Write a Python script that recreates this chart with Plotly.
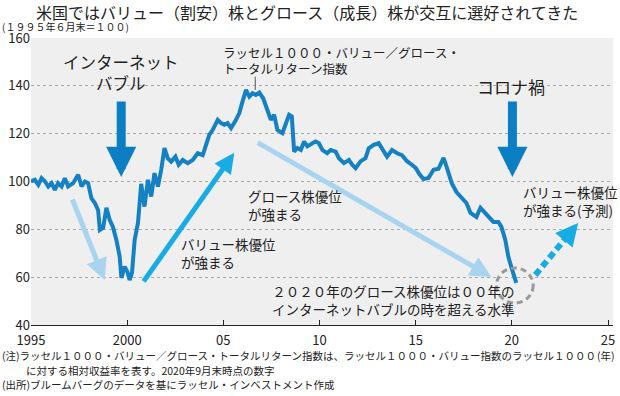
import plotly.graph_objects as go

# ---------------- data ----------------
years = [1995.00, 1995.20, 1995.38, 1995.55, 1995.73, 1995.90, 1996.07, 1996.24, 1996.41, 1996.59,
         1996.76, 1996.93, 1997.19, 1997.45, 1997.63, 1997.80, 1997.97, 1998.14, 1998.32, 1998.49,
         1998.58, 1998.75, 1998.92, 1999.09, 1999.26, 1999.44, 1999.61, 1999.70, 1999.87, 2000.01,
         2000.13, 2000.25, 2000.39, 2000.56, 2000.73, 2000.90, 2001.08, 2001.25, 2001.42, 2001.60,
         2001.77, 2001.94, 2002.11, 2002.29, 2002.51, 2002.68, 2002.89, 2003.15, 2003.41, 2003.67,
         2003.93, 2004.10, 2004.27, 2004.45, 2004.71, 2004.88, 2005.05, 2005.22, 2005.40, 2005.66,
         2005.83, 2006.00, 2006.18, 2006.35, 2006.52, 2006.69, 2006.87, 2007.07, 2007.30, 2007.47,
         2007.64, 2007.81, 2008.07, 2008.25, 2008.42, 2008.56, 2008.68, 2008.85, 2009.03, 2009.20,
         2009.37, 2009.63, 2009.80, 2009.97, 2010.15, 2010.40, 2010.58, 2010.84, 2011.01, 2011.27,
         2011.53, 2011.70, 2011.88, 2012.13, 2012.39, 2012.56, 2012.82, 2013.08, 2013.25, 2013.51,
         2013.77, 2014.03, 2014.29, 2014.55, 2014.80, 2015.00, 2015.20, 2015.41, 2015.67, 2015.93,
         2016.19, 2016.45, 2016.61, 2016.87, 2017.12, 2017.38, 2017.64, 2017.85, 2018.16, 2018.37,
         2018.68, 2019.04, 2019.30, 2019.46, 2019.66, 2019.82, 2019.97, 2020.23]
index_values = [100, 100.7, 98.6, 101.4, 100, 97.9, 99.3, 96.5, 99.3, 97.9,
                101.4, 97.9, 99.3, 102.8, 97.9, 100, 99.3, 93, 91, 88,
                79.7, 80.6, 89, 84, 81, 75.6, 68.6, 59.7, 64.4, 62.3,
                58.8, 61.8, 75.6, 82.6, 99, 89.5, 100.7, 93.7, 103.5, 97.9,
                104.9, 114, 109.7, 108.3, 110.4, 107, 109, 107.7, 109, 111.8,
                111, 115.3, 119.5, 121.6, 125.8, 124.4, 123.7, 124.4, 122.3, 125.8,
                128.6, 133.5, 138.3, 135.5, 136.9, 136.2, 137.2, 134.8, 130, 125.8,
                127.9, 121.6, 120.2, 123.7, 127.9, 127.2, 112.5, 114, 113.2, 116.7,
                114.7, 116, 116.7, 116, 113.2, 111.8, 113.2, 112.5, 109.7, 107.7,
                109, 107, 105.6, 108.4, 109.7, 113.9, 115.3, 116, 113.9, 110.4,
                113.2, 111.8, 111, 108.5, 107, 105.7, 103, 101, 101.5, 104.9,
                105.3, 109.9, 106.1, 99.4, 95.6, 93.1, 91, 86.9, 85.2, 89,
                86, 83.1, 83.1, 81, 75.6, 68.5, 64.3, 57.6]

x_tick_values = [1995, 2000, 2005, 2010, 2015, 2020, 2025]
x_tick_labels = ["1995", "2000", "05", "10", "15", "20", "25"]
y_tick_values = [40, 60, 80, 100, 120, 140, 160]

title_text = "米国ではバリュー（割安）株とグロース（成長）株が交互に選好されてきた"
subtitle_text = "(１９９５年６月末＝１００)"
note_lines = [
    "(注)ラッセル１０００・バリュー／グロース・トータルリターン指数は、ラッセル１０００・バリュー指数のラッセル１０００",
    "に対する相対収益率を表す。2020年9月末時点の数字",
    "(出所)ブルームバーグのデータを基にラッセル・インベストメント作成",
]

FONT = "Noto Sans CJK JP"
LINE_C = "#1581c5"
DARK_C = "#0b7ec4"
BRIGHT_C = "#17ace6"
PALE_C = "#a8d4f0"

W, H = 620, 396
ML, MR, MT, MB = 31, 5, 38, 71
PW, PH = W - ML - MR, H - MT - MB


def px(xp):
    return (xp - ML) / PW


def py(yp):
    return (H - MB - yp) / PH


fig = go.Figure()
fig.add_trace(go.Scatter(x=years, y=index_values, mode="lines",
                         line=dict(color=LINE_C, width=4), hoverinfo="skip",
                         showlegend=False))

ann = []


def arrow(x0, y0, x1, y1, color, width, size):
    ann.append(dict(x=x1, y=y1, ax=x0, ay=y0, xref="x", yref="y", axref="x", ayref="y",
                    text="", showarrow=True, arrowhead=2, arrowsize=size,
                    arrowwidth=width, arrowcolor=color))


def label(x, y, text, size, align="left", xanchor="left", color="#222"):
    ann.append(dict(x=x, y=y, xref="x", yref="y", text=text, showarrow=False,
                    xanchor=xanchor, yanchor="middle", align=align,
                    font=dict(family=FONT, size=size, color=color)))


# big dark arrows
arrow(1999.69, 134.1, 1999.69, 101.9, DARK_C, 9, 0.67)
arrow(2020.03, 134.1, 2020.03, 101.9, DARK_C, 9, 0.67)
label(1999.66, 145.4, "インターネット<br>バブル", 16.5, align="center", xanchor="center")
label(2019.97, 139.6, "コロナ禍", 17, align="center", xanchor="center")

# pale & bright arrows
arrow(1997.12, 93.1, 1998.83, 58.8, PALE_C, 5, 0.85)
arrow(2000.80, 57.6, 2005.57, 112.0, BRIGHT_C, 5, 0.8)
arrow(2006.71, 116.6, 2018.94, 60.1, PALE_C, 5, 0.85)

label(1994.79, 49.4, "グロース株優位<br>が強まる", 13.5)
label(2002.72, 70.3, "バリュー株優位<br>が強まる", 13.5)
label(2006.19, 90.0, "グロース株優位<br>が強まる", 13.5)
label(2020.49, 91.9, "バリュー株優位<br>が強まる(予測)", 13.5)
label(2004.90, 150.7, "ラッセル１０００・バリュー／グロース・<br>トータルリターン指数", 12.5)
label(2013.86, 50.5, "２０２０年のグロース株優位は００年の<br>インターネットバブルの時を超える水準", 13.5,
      align="center", xanchor="center")

# dashed forecast arrow: head only via annotation
tx0, ty0, tx1, ty1 = 2021.22, 60.9, 2023.45, 82.7
hx0 = tx1 - 0.3 * (tx1 - tx0)
hy0 = ty1 - 0.3 * (ty1 - ty0)
arrow(hx0, hy0, tx1, ty1, BRIGHT_C, 6, 0.75)

# paper texts
ann.append(dict(x=px(308), y=py(12), xref="paper", yref="paper", text=title_text,
                showarrow=False, xanchor="center", yanchor="middle",
                font=dict(family=FONT, size=16, color="#222")))
ann.append(dict(x=px(0), y=py(26.5), xref="paper", yref="paper", text=subtitle_text,
                showarrow=False, xanchor="left", yanchor="middle",
                font=dict(family=FONT, size=10, color="#222")))
for i, (t, xp, yp) in enumerate(zip(note_lines, [0, 24, 0], [355, 370, 384])):
    ann.append(dict(x=px(xp), y=py(yp), xref="paper", yref="paper", text=t,
                    showarrow=False, xanchor="left", yanchor="middle",
                    font=dict(family=FONT, size=10.5, color="#222")))
ann.append(dict(x=px(619), y=py(355), xref="paper", yref="paper", text="(年)",
                showarrow=False, xanchor="right", yanchor="middle",
                font=dict(family=FONT, size=10.5, color="#222")))

shapes = [
    dict(type="line", xref="x", yref="y", x0=tx0, y0=ty0, x1=hx0, y1=hy0,
         line=dict(color=BRIGHT_C, width=6, dash="7px,4px")),
    dict(type="circle", xref="x", yref="y", x0=2019.20, x1=2021.11, y0=49.2, y1=63.85,
         line=dict(color="#999999", width=3, dash="6px,4px")),
    dict(type="line", xref="x", yref="y", x0=2006.66, x1=2006.66, y0=138.3, y1=143.8,
         line=dict(color="#555555", width=1)),
]

fig.update_layout(
    width=W, height=H,
    margin=dict(l=ML, r=MR, t=MT, b=MB),
    paper_bgcolor="white", plot_bgcolor="#efefef",
    font=dict(family=FONT, size=13, color="#222"),
    annotations=ann, shapes=shapes, showlegend=False,
    xaxis=dict(range=[1995, 2025.26], tickvals=x_tick_values, ticktext=x_tick_labels,
               ticks="inside", ticklen=5, tickcolor="#222", showgrid=False,
               showline=True, linecolor="#222", linewidth=1, zeroline=False,
               ticklabelstandoff=3,
               tickfont=dict(family=FONT, size=13, color="#222")),
    yaxis=dict(range=[40, 160], tickvals=y_tick_values, showgrid=True,
               gridcolor="#aaaaaa", griddash="dot", gridwidth=1, zeroline=False,
               showline=False, ticks="", tickfont=dict(family=FONT, size=13, color="#222")),
)

fig.write_html("out.html", config={"displayModeBar": False},
               post_script="document.body.style.margin='0';document.body.style.overflow='hidden';")
